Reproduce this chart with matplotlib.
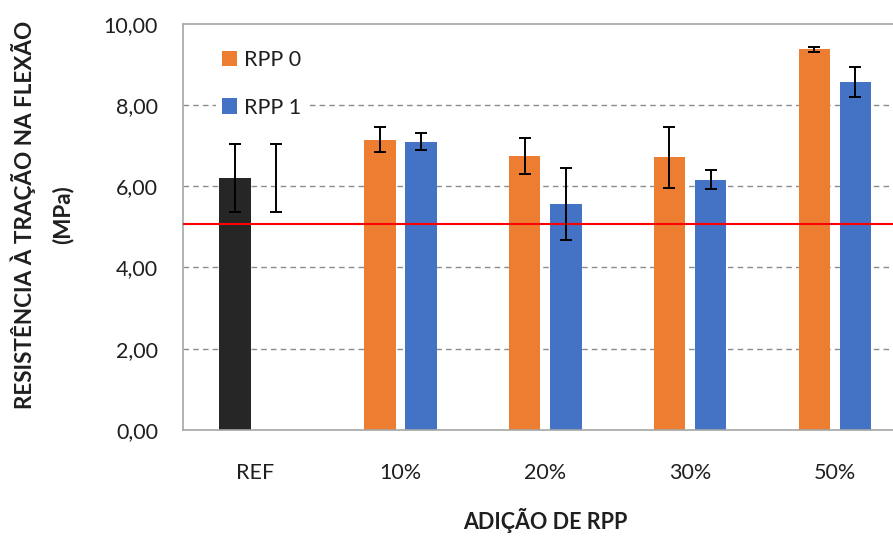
import numpy as np
import matplotlib.pyplot as plt
from matplotlib.ticker import FixedLocator, FixedFormatter

plt.rcParams['font.family'] = ['Lato', 'DejaVu Sans']

# dados do ensaio de tração na flexão
categorias = ['REF', '10%', '20%', '30%', '50%']
ref_media = 6.20
ref_desvio = 0.84
rpp0_media = [7.15, 6.75, 6.71, 9.37]
rpp0_desvio = [0.30, 0.45, 0.75, 0.06]
rpp1_media = [7.10, 5.57, 6.16, 8.57]
rpp1_desvio = [0.20, 0.89, 0.23, 0.37]
limite = 5.07
y_ticks = [0, 2, 4, 6, 8, 10]
y_labels = ['0,00', '2,00', '4,00', '6,00', '8,00', '10,00']

cor_ref = '#262626'
cor_rpp0 = '#ED7D31'
cor_rpp1 = '#4472C4'
cor_texto = '#1f1f1f'

fig = plt.figure(figsize=(8.93, 5.36), dpi=100)
ax = fig.add_axes([0.205, 0.198, 0.811, 0.7575])

x = np.arange(len(categorias))
larg = 0.218
desl = 0.142

# linhas de grade tracejadas
for v in y_ticks[1:-1]:
    ax.axhline(v, color='#8c8c8c', lw=1.0, ls=(0, (4, 3)), zorder=0)

# referência: barra preta, e barra de erro repetida ao lado
ax.bar(x[0] - desl, ref_media, width=larg, color=cor_ref, zorder=2)
ax.errorbar([x[0] - desl, x[0] + desl], [ref_media, ref_media],
            yerr=[ref_desvio, ref_desvio], fmt='none', ecolor='black',
            elinewidth=1.4, capsize=4.5, capthick=1.4, zorder=4)

b0 = ax.bar(x[1:] - desl, rpp0_media, width=larg, color=cor_rpp0,
            label='RPP 0', zorder=2)
b1 = ax.bar(x[1:] + desl, rpp1_media, width=larg, color=cor_rpp1,
            label='RPP 1', zorder=2)
ax.errorbar(x[1:] - desl, rpp0_media, yerr=rpp0_desvio, fmt='none',
            ecolor='black', elinewidth=1.4, capsize=4.5, capthick=1.4, zorder=4)
ax.errorbar(x[1:] + desl, rpp1_media, yerr=rpp1_desvio, fmt='none',
            ecolor='black', elinewidth=1.4, capsize=4.5, capthick=1.4, zorder=4)

# linha limite em vermelho
ax.axhline(limite, color='red', lw=1.5, zorder=3)

ax.set_xlim(-0.5, 4.5)
ax.set_ylim(0, 10)
ax.set_xticks(x)
ax.set_xticklabels(categorias, fontsize=15.5, color=cor_texto)
ax.yaxis.set_major_locator(FixedLocator(y_ticks))
ax.yaxis.set_major_formatter(FixedFormatter(y_labels))
ax.tick_params(axis='y', length=0, pad=18, labelsize=15.5, labelcolor=cor_texto)
ax.tick_params(axis='x', length=0, pad=24)

for s in ['left', 'bottom', 'top']:
    ax.spines[s].set_color('#a6a6a6')
    ax.spines[s].set_linewidth(1.2)
ax.spines['right'].set_visible(False)

fig.text(42 / 893, 1 - 215 / 536, 'RESISTÊNCIA À TRAÇÃO NA FLEXÃO\n(MPa)',
         rotation=90, ha='center', va='center', multialignment='center',
         fontsize=16.2, fontweight='bold', color=cor_texto, linespacing=1.9)
ax.set_xlabel('ADIÇÃO DE RPP', fontsize=15.5, fontweight='bold',
              color=cor_texto, labelpad=18)

leg = ax.legend(handles=[b0, b1], loc='upper left',
                bbox_to_anchor=(0.030, 0.978), frameon=True, fancybox=False,
                edgecolor='none', framealpha=1.0, fontsize=15.5,
                handlelength=0.7, handleheight=0.7, handletextpad=0.3,
                labelspacing=1.28, borderpad=0.3)
for t in leg.get_texts():
    t.set_color(cor_texto)

fig.savefig('out.png', dpi=100)
